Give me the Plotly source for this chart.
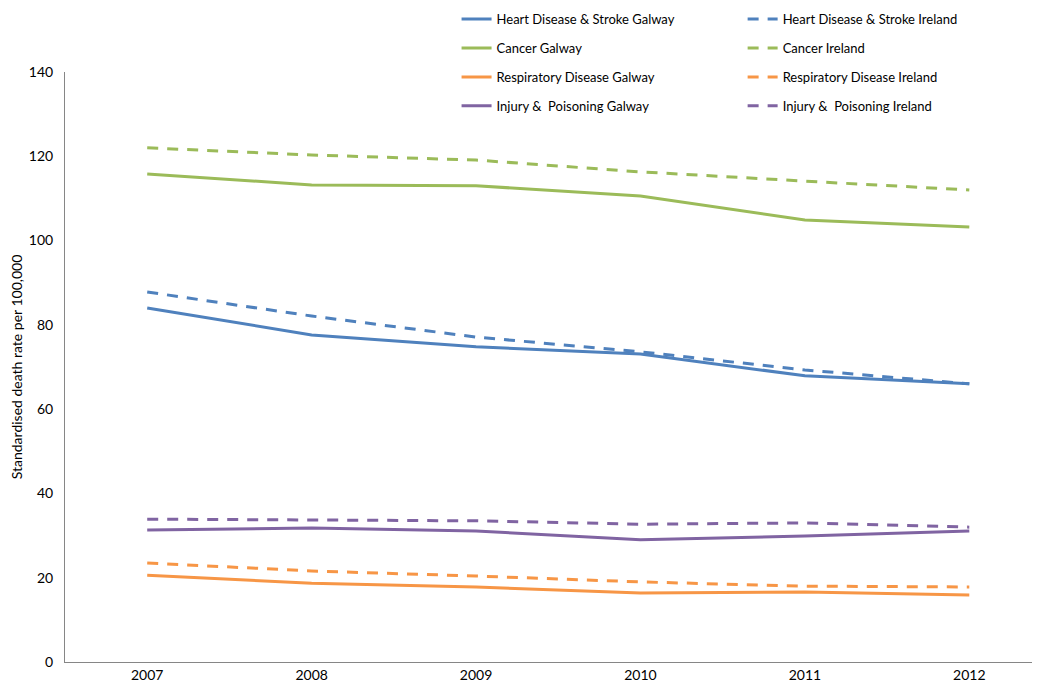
import plotly.graph_objects as go

years = ["2007", "2008", "2009", "2010", "2011", "2012"]

heart_galway = [84.0, 77.6, 74.8, 73.1, 67.9, 66.0]
heart_ireland = [87.8, 82.1, 77.1, 73.6, 69.3, 66.0]
cancer_galway = [115.8, 113.2, 113.0, 110.6, 104.9, 103.2]
cancer_ireland = [122.0, 120.3, 119.1, 116.3, 114.1, 112.0]
resp_galway = [20.6, 18.7, 17.8, 16.4, 16.6, 15.9]
resp_ireland = [23.5, 21.6, 20.4, 19.0, 18.0, 17.8]
injury_galway = [31.3, 31.8, 31.1, 29.0, 29.9, 31.1]
injury_ireland = [33.9, 33.7, 33.5, 32.7, 33.0, 32.0]

series = [
    ("Heart Disease & Stroke Galway", heart_galway, "#4F81BD", "solid", "legend"),
    ("Cancer Galway", cancer_galway, "#9BBB59", "solid", "legend"),
    ("Respiratory Disease Galway", resp_galway, "#F79646", "solid", "legend"),
    ("Injury &  Poisoning Galway", injury_galway, "#8064A2", "solid", "legend"),
    ("Heart Disease & Stroke Ireland", heart_ireland, "#4F81BD", "11px,9px", "legend2"),
    ("Cancer Ireland", cancer_ireland, "#9BBB59", "11px,9px", "legend2"),
    ("Respiratory Disease Ireland", resp_ireland, "#F79646", "11px,9px", "legend2"),
    ("Injury &  Poisoning Ireland", injury_ireland, "#8064A2", "11px,9px", "legend2"),
]

FONT = "Lato, Roboto, Arial"

fig = go.Figure()
for i, (name, vals, col, dash, lg) in enumerate(series):
    fig.add_trace(go.Scatter(
        x=years, y=vals, mode="lines", name=name,
        line=dict(color=col, width=3, dash=dash),
        legend=lg, legendgroup=name,
    ))

legend_common = dict(
    orientation="v", yanchor="top", xanchor="left",
    bgcolor="rgba(0,0,0,0)", tracegroupgap=9,
    font=dict(family=FONT, size=13, color="#000000"),
    itemwidth=30,
)

# page body has an 8px margin, so the figure is shifted by 8px
fig.update_layout(
    width=1032, height=682,
    margin=dict(l=57, r=0, t=64, b=28, autoexpand=False),
    paper_bgcolor="white", plot_bgcolor="white",
    font=dict(family=FONT, size=13, color="#000000"),
    legend=dict(x=0.4016, y=1.115, **legend_common),
    legend2=dict(x=0.695, y=1.115, **legend_common),
    xaxis=dict(
        type="category", range=[-0.5, 5.43],
        showline=True, linecolor="#868686", linewidth=1,
        showgrid=False, ticks="", zeroline=False,
        tickfont=dict(family=FONT, size=14),
    ),
    yaxis=dict(
        range=[0, 140], dtick=20,
        showline=True, linecolor="#868686", linewidth=1,
        showgrid=False, ticks="", zeroline=False,
        tickfont=dict(family=FONT, size=14),
        ticklabelstandoff=8,
        title=dict(text="Standardised death rate per 100,000",
                   font=dict(family=FONT, size=14), standoff=10),
    ),
)

fig.write_html("out.html")
